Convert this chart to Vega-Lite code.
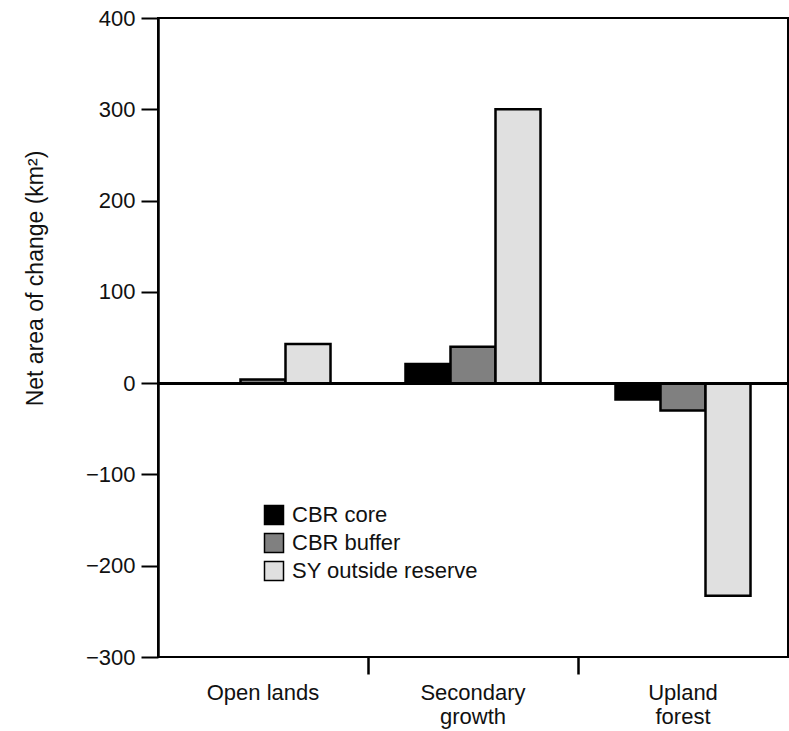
{
  "$schema": "https://vega.github.io/schema/vega-lite/v6.json",
  "autosize": "none",
  "padding": {"left": 158, "top": 18, "right": 1, "bottom": 74},
  "width": 630,
  "height": 639,
  "config": {
    "view": {"stroke": "black", "strokeWidth": 2},
    "font": "Liberation Sans",
    "axis": {"labelFont": "Liberation Sans", "titleFont": "Liberation Sans", "labelColor": "#111", "titleColor": "#111"}
  },
  "data": {
    "values": [
      {"cover": "Open lands", "zone": "CBR core", "change": 0},
      {"cover": "Open lands", "zone": "CBR buffer", "change": 4},
      {"cover": "Open lands", "zone": "SY outside reserve", "change": 43},
      {"cover": "Secondary growth", "zone": "CBR core", "change": 21},
      {"cover": "Secondary growth", "zone": "CBR buffer", "change": 40},
      {"cover": "Secondary growth", "zone": "SY outside reserve", "change": 300},
      {"cover": "Upland forest", "zone": "CBR core", "change": -18},
      {"cover": "Upland forest", "zone": "CBR buffer", "change": -30},
      {"cover": "Upland forest", "zone": "SY outside reserve", "change": -233}
    ]
  },
  "layer": [
    {
      "mark": {"type": "bar", "stroke": "black", "strokeWidth": 2.5},
      "encoding": {
        "x": {
          "field": "cover", "type": "nominal",
          "sort": ["Open lands", "Secondary growth", "Upland forest"],
          "scale": {"paddingInner": 0, "paddingOuter": 0},
          "axis": {
            "orient": "bottom", "title": null, "labelAngle": 0, "ticks": false, "domain": false,
            "labelFontSize": 22, "labelPadding": 35, "labelLineHeight": 24, "labelBaseline": "middle",
            "labelExpr": "datum.label == 'Open lands' ? datum.label : split(datum.label, ' ')"
          }
        },
        "xOffset": {
          "field": "zone", "type": "nominal",
          "sort": ["CBR core", "CBR buffer", "SY outside reserve"],
          "scale": {"paddingInner": 0, "paddingOuter": 0.833}
        },
        "y": {
          "field": "change", "type": "quantitative",
          "scale": {"domain": [-300, 400], "nice": false, "zero": false},
          "axis": {
            "title": "Net area of change (km²)", "titleFontSize": 23, "titleFontWeight": "normal",
            "titleAngle": -90, "titleX": -123, "titleY": 260, "titleBaseline": "middle", "titleAlign": "center",
            "values": [-300, -200, -100, 0, 100, 200, 300, 400],
            "grid": false, "tickSize": 17, "tickWidth": 2, "tickColor": "black",
            "domainColor": "black", "domainWidth": 2.5,
            "labelFontSize": 22, "labelPadding": 6
          }
        },
        "color": {
          "field": "zone", "type": "nominal",
          "sort": ["CBR core", "CBR buffer", "SY outside reserve"],
          "scale": {"domain": ["CBR core", "CBR buffer", "SY outside reserve"], "range": ["#000000", "#808080", "#e0e0e0"]},
          "legend": {
            "title": null, "orient": "none", "legendX": 105, "legendY": 486,
            "symbolType": "square", "symbolSize": 361, "symbolStrokeColor": "black", "symbolStrokeWidth": 1.5,
            "symbolOpacity": 1, "labelLimit": 0,
            "labelFontSize": 22, "labelColor": "#111", "labelOffset": 7, "rowPadding": 2
          }
        }
      }
    },
    {
      "mark": {"type": "bar", "opacity": 0},
      "encoding": {
        "x": {
          "field": "cover", "type": "nominal",
          "sort": ["Open lands", "Secondary growth", "Upland forest"],
          "axis": {
            "orient": "bottom", "title": null, "labels": false, "domain": false,
            "values": ["Secondary growth", "Upland forest"], "bandPosition": 0,
            "tickSize": 17, "tickWidth": 2.5, "tickColor": "black"
          }
        },
        "y": {"field": "change", "type": "quantitative"}
      }
    },
    {
      "mark": {"type": "rule", "color": "black", "strokeWidth": 2.5},
      "encoding": {"y": {"datum": 0}}
    }
  ],
  "resolve": {"axis": {"x": "independent"}}
}
